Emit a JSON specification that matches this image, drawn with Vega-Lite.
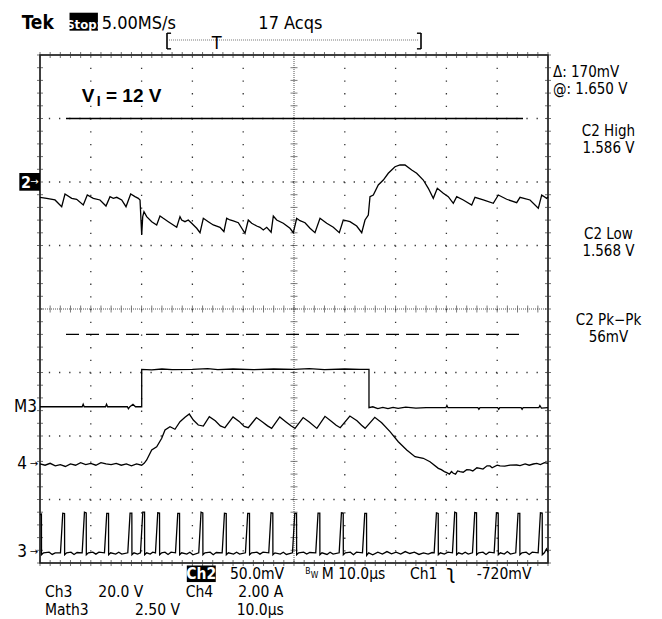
{
"$schema":"https://vega.github.io/schema/vega-lite/v6.json",
"width":508,"height":508,
"autosize":{"type":"none"},
"padding":{"left":40,"top":55,"right":114,"bottom":56},
"background":"white",
"config":{"view":{"stroke":"black","strokeWidth":1.5},"axis":{"disable":true}},
"datasets":{
"hg":[{"v":-3},{"v":-2},{"v":-1},{"v":1},{"v":2},{"v":3}],
"vg":[{"t":10},{"t":20},{"t":30},{"t":40},{"t":60},{"t":70},{"t":80},{"t":90}],
"ht":[{"t":0},{"t":2},{"t":4},{"t":6},{"t":8},{"t":10},{"t":12},{"t":14},{"t":16},{"t":18},{"t":20},{"t":22},{"t":24},{"t":26},{"t":28},{"t":30},{"t":32},{"t":34},{"t":36},{"t":38},{"t":40},{"t":42},{"t":44},{"t":46},{"t":48},{"t":50},{"t":52},{"t":54},{"t":56},{"t":58},{"t":60},{"t":62},{"t":64},{"t":66},{"t":68},{"t":70},{"t":72},{"t":74},{"t":76},{"t":78},{"t":80},{"t":82},{"t":84},{"t":86},{"t":88},{"t":90},{"t":92},{"t":94},{"t":96},{"t":98},{"t":100}],
"vt":[{"v":-4},{"v":-3.8},{"v":-3.6},{"v":-3.4},{"v":-3.2},{"v":-3},{"v":-2.8},{"v":-2.6},{"v":-2.4},{"v":-2.2},{"v":-2},{"v":-1.8},{"v":-1.6},{"v":-1.4},{"v":-1.2},{"v":-1},{"v":-0.8},{"v":-0.6},{"v":-0.4},{"v":-0.2},{"v":0},{"v":0.2},{"v":0.4},{"v":0.6},{"v":0.8},{"v":1},{"v":1.2},{"v":1.4},{"v":1.6},{"v":1.8},{"v":2},{"v":2.2},{"v":2.4},{"v":2.6},{"v":2.8},{"v":3},{"v":3.2},{"v":3.4},{"v":3.6},{"v":3.8},{"v":4}],
"ch2":[{"t":0,"v":1.759},{"t":1.32,"v":1.743},{"t":2.95,"v":1.717},{"t":4.27,"v":1.611},{"t":4.92,"v":1.811},{"t":6.24,"v":1.743},{"t":7.22,"v":1.728},{"t":8.52,"v":1.638},{"t":9.31,"v":1.795},{"t":10.49,"v":1.743},{"t":11.81,"v":1.717},{"t":12.99,"v":1.622},{"t":13.78,"v":1.769},{"t":14.43,"v":1.743},{"t":15.1,"v":1.759},{"t":16.08,"v":1.717},{"t":16.93,"v":1.611},{"t":17.85,"v":1.811},{"t":18.7,"v":1.769},{"t":19.35,"v":1.743},{"t":19.69,"v":1.717},{"t":20.02,"v":1.165},{"t":20.22,"v":1.454},{"t":20.47,"v":1.532},{"t":21.0,"v":1.454},{"t":21.99,"v":1.375},{"t":22.97,"v":1.323},{"t":23.62,"v":1.465},{"t":24.27,"v":1.428},{"t":25.26,"v":1.375},{"t":26.24,"v":1.323},{"t":26.91,"v":1.287},{"t":27.56,"v":1.454},{"t":27.89,"v":1.402},{"t":28.54,"v":1.375},{"t":29.19,"v":1.402},{"t":29.86,"v":1.35},{"t":30.85,"v":1.271},{"t":31.5,"v":1.202},{"t":32.15,"v":1.428},{"t":33.13,"v":1.375},{"t":34.11,"v":1.323},{"t":35.43,"v":1.287},{"t":36.2,"v":1.22},{"t":36.75,"v":1.428},{"t":37.4,"v":1.402},{"t":38.05,"v":1.386},{"t":39.04,"v":1.359},{"t":40.35,"v":1.192},{"t":41.0,"v":1.402},{"t":41.67,"v":1.35},{"t":42.66,"v":1.307},{"t":43.31,"v":1.287},{"t":43.96,"v":1.244},{"t":44.63,"v":1.287},{"t":45.5,"v":1.21},{"t":45.93,"v":1.465},{"t":46.59,"v":1.402},{"t":47.89,"v":1.35},{"t":49.21,"v":1.271},{"t":49.86,"v":1.202},{"t":50.53,"v":1.428},{"t":51.18,"v":1.391},{"t":52.17,"v":1.359},{"t":53.15,"v":1.271},{"t":54.13,"v":1.202},{"t":55.12,"v":1.428},{"t":56.44,"v":1.35},{"t":57.74,"v":1.287},{"t":58.92,"v":1.202},{"t":59.7,"v":1.402},{"t":61.02,"v":1.375},{"t":62.34,"v":1.307},{"t":63.33,"v":1.202},{"t":63.98,"v":1.402},{"t":64.63,"v":1.48},{"t":64.96,"v":1.769},{"t":65.61,"v":1.795},{"t":66.59,"v":1.953},{"t":67.58,"v":2.031},{"t":68.56,"v":2.137},{"t":69.88,"v":2.241},{"t":70.87,"v":2.268},{"t":71.85,"v":2.268},{"t":73.17,"v":2.189},{"t":74.15,"v":2.137},{"t":75.45,"v":2.031},{"t":76.44,"v":1.901},{"t":77.42,"v":1.743},{"t":78.21,"v":1.901},{"t":79.39,"v":1.822},{"t":80.37,"v":1.769},{"t":81.36,"v":1.665},{"t":82.03,"v":1.769},{"t":83.33,"v":1.717},{"t":84.98,"v":1.638},{"t":85.63,"v":1.759},{"t":87.26,"v":1.717},{"t":89.23,"v":1.665},{"t":90.22,"v":1.795},{"t":91.87,"v":1.728},{"t":93.84,"v":1.674},{"t":94.49,"v":1.759},{"t":96.46,"v":1.717},{"t":98.09,"v":1.586},{"t":98.76,"v":1.795},{"t":99.74,"v":1.743},{"t":100,"v":1.764}],
"m3":[{"t":0,"v":-1.539},{"t":8.3,"v":-1.539},{"t":8.5,"v":-1.5},{"t":8.7,"v":-1.539},{"t":12.9,"v":-1.539},{"t":13.1,"v":-1.5},{"t":13.3,"v":-1.539},{"t":17.2,"v":-1.539},{"t":17.4,"v":-1.57},{"t":17.7,"v":-1.539},{"t":18.3,"v":-1.5},{"t":18.8,"v":-1.539},{"t":20.02,"v":-1.539},{"t":20.02,"v":-0.95},{"t":22,"v":-0.96},{"t":24,"v":-0.945},{"t":26,"v":-0.955},{"t":30,"v":-0.95},{"t":33,"v":-0.94},{"t":35,"v":-0.955},{"t":38,"v":-0.945},{"t":42,"v":-0.955},{"t":46,"v":-0.945},{"t":50,"v":-0.95},{"t":53,"v":-0.94},{"t":56,"v":-0.955},{"t":60,"v":-0.945},{"t":63,"v":-0.95},{"t":64.76,"v":-0.95},{"t":64.76,"v":-1.554},{"t":65.5,"v":-1.54},{"t":66.5,"v":-1.57},{"t":67.5,"v":-1.55},{"t":68.5,"v":-1.57},{"t":69.5,"v":-1.55},{"t":70.5,"v":-1.565},{"t":72,"v":-1.545},{"t":74,"v":-1.56},{"t":76,"v":-1.554},{"t":79.9,"v":-1.554},{"t":80.1,"v":-1.52},{"t":80.3,"v":-1.554},{"t":86.2,"v":-1.554},{"t":86.4,"v":-1.58},{"t":86.6,"v":-1.554},{"t":90.1,"v":-1.554},{"t":90.3,"v":-1.58},{"t":90.5,"v":-1.554},{"t":94.7,"v":-1.554},{"t":94.9,"v":-1.58},{"t":95.1,"v":-1.554},{"t":98.2,"v":-1.554},{"t":98.4,"v":-1.52},{"t":98.7,"v":-1.56},{"t":100,"v":-1.554}],
"ch4":[{"t":0,"v":-2.44},{"t":1,"v":-2.46},{"t":2,"v":-2.43},{"t":3,"v":-2.47},{"t":4,"v":-2.45},{"t":5,"v":-2.48},{"t":6,"v":-2.44},{"t":7,"v":-2.46},{"t":8,"v":-2.42},{"t":9,"v":-2.45},{"t":10,"v":-2.43},{"t":11,"v":-2.46},{"t":12,"v":-2.42},{"t":13,"v":-2.44},{"t":14,"v":-2.45},{"t":15,"v":-2.43},{"t":16,"v":-2.46},{"t":17,"v":-2.44},{"t":18,"v":-2.47},{"t":19,"v":-2.44},{"t":20,"v":-2.46},{"t":20.5,"v":-2.43},{"t":21.0,"v":-2.378},{"t":21.99,"v":-2.22},{"t":22.97,"v":-2.169},{"t":23.96,"v":-2.036},{"t":24.61,"v":-1.906},{"t":25.59,"v":-1.854},{"t":26.57,"v":-1.894},{"t":27.56,"v":-1.775},{"t":28.54,"v":-1.706},{"t":29.39,"v":-1.654},{"t":30.18,"v":-1.748},{"t":31.16,"v":-1.827},{"t":32.15,"v":-1.843},{"t":33.33,"v":-1.696},{"t":34.5,"v":-1.76},{"t":35.5,"v":-1.84},{"t":36.4,"v":-1.87},{"t":38.0,"v":-1.7},{"t":39.2,"v":-1.77},{"t":40.2,"v":-1.85},{"t":41.0,"v":-1.87},{"t":42.6,"v":-1.71},{"t":43.8,"v":-1.78},{"t":44.8,"v":-1.84},{"t":45.6,"v":-1.88},{"t":47.2,"v":-1.7},{"t":48.3,"v":-1.77},{"t":49.4,"v":-1.84},{"t":50.2,"v":-1.88},{"t":51.8,"v":-1.71},{"t":53.0,"v":-1.78},{"t":54.5,"v":-1.88},{"t":56.1,"v":-1.69},{"t":57.4,"v":-1.77},{"t":58.3,"v":-1.83},{"t":59.1,"v":-1.87},{"t":61.0,"v":-1.685},{"t":62.4,"v":-1.76},{"t":63.3,"v":-1.83},{"t":64.0,"v":-1.879},{"t":65.9,"v":-1.706},{"t":67.26,"v":-1.791},{"t":68.9,"v":-1.932},{"t":70.53,"v":-2.09},{"t":72.19,"v":-2.22},{"t":73.82,"v":-2.326},{"t":75.45,"v":-2.351},{"t":76.77,"v":-2.405},{"t":78.41,"v":-2.509},{"t":79.0,"v":-2.53},{"t":79.6,"v":-2.56},{"t":80.06,"v":-2.578},{"t":80.6,"v":-2.6},{"t":81.0,"v":-2.56},{"t":81.36,"v":-2.587},{"t":81.8,"v":-2.6},{"t":82.2,"v":-2.55},{"t":82.68,"v":-2.562},{"t":83.3,"v":-2.57},{"t":84.0,"v":-2.53},{"t":84.65,"v":-2.535},{"t":85.2,"v":-2.55},{"t":86.0,"v":-2.5},{"t":86.61,"v":-2.509},{"t":87.2,"v":-2.52},{"t":88.0,"v":-2.47},{"t":88.58,"v":-2.472},{"t":89.0,"v":-2.5},{"t":90.0,"v":-2.46},{"t":90.55,"v":-2.472},{"t":91.5,"v":-2.475},{"t":92.5,"v":-2.46},{"t":93.84,"v":-2.457},{"t":94.5,"v":-2.465},{"t":95.5,"v":-2.44},{"t":96.3,"v":-2.46},{"t":97.11,"v":-2.441},{"t":97.8,"v":-2.43},{"t":98.5,"v":-2.45},{"t":99.3,"v":-2.42},{"t":100,"v":-2.43}],
"ch3":[{"t":0,"v":-3.24},{"t":0.28,"v":-3.23},{"t":0.3,"v":-3.87},{"t":0.7,"v":-3.84},{"t":1.8,"v":-3.83},{"t":2.4,"v":-3.865},{"t":3.0,"v":-3.84},
{"t":4.03,"v":-3.84},{"t":4.48,"v":-3.215},{"t":4.83,"v":-3.22},{"t":4.85,"v":-3.87},{"t":5.25,"v":-3.84},{"t":6.1,"v":-3.83},{"t":6.7,"v":-3.865},{"t":7.3,"v":-3.835},
{"t":8.3,"v":-3.84},{"t":8.75,"v":-3.2},{"t":9.1,"v":-3.21},{"t":9.12,"v":-3.87},{"t":9.52,"v":-3.84},{"t":10.4,"v":-3.83},{"t":11.0,"v":-3.86},{"t":11.6,"v":-3.83},
{"t":12.69,"v":-3.84},{"t":13.14,"v":-3.22},{"t":13.49,"v":-3.22},{"t":13.51,"v":-3.87},{"t":13.91,"v":-3.84},{"t":14.9,"v":-3.86},{"t":15.5,"v":-3.83},{"t":16.1,"v":-3.86},
{"t":17.28,"v":-3.84},{"t":17.73,"v":-3.215},{"t":18.08,"v":-3.215},{"t":18.1,"v":-3.87},{"t":18.5,"v":-3.84},{"t":19.2,"v":-3.86},
{"t":19.78,"v":-3.84},{"t":20.23,"v":-3.2},{"t":20.58,"v":-3.2},{"t":20.6,"v":-3.87},{"t":21.0,"v":-3.84},{"t":21.7,"v":-3.86},{"t":22.2,"v":-3.83},
{"t":22.73,"v":-3.84},{"t":23.18,"v":-3.21},{"t":23.53,"v":-3.215},{"t":23.55,"v":-3.87},{"t":23.95,"v":-3.84},{"t":24.6,"v":-3.83},{"t":25.2,"v":-3.865},{"t":25.8,"v":-3.83},
{"t":26.67,"v":-3.84},{"t":27.12,"v":-3.22},{"t":27.47,"v":-3.22},{"t":27.49,"v":-3.87},{"t":27.89,"v":-3.84},{"t":28.9,"v":-3.86},{"t":29.5,"v":-3.83},{"t":30.1,"v":-3.87},
{"t":31.25,"v":-3.84},{"t":31.7,"v":-3.2},{"t":32.05,"v":-3.21},{"t":32.07,"v":-3.87},{"t":32.47,"v":-3.84},{"t":33.5,"v":-3.83},{"t":34.1,"v":-3.87},{"t":34.7,"v":-3.835},
{"t":35.86,"v":-3.84},{"t":36.31,"v":-3.215},{"t":36.66,"v":-3.22},{"t":36.68,"v":-3.87},{"t":37.08,"v":-3.84},{"t":38.1,"v":-3.86},{"t":38.7,"v":-3.83},{"t":39.3,"v":-3.86},
{"t":40.44,"v":-3.84},{"t":40.89,"v":-3.22},{"t":41.24,"v":-3.22},{"t":41.26,"v":-3.87},{"t":41.66,"v":-3.84},{"t":42.7,"v":-3.83},{"t":43.3,"v":-3.86},{"t":43.9,"v":-3.83},
{"t":45.03,"v":-3.84},{"t":45.48,"v":-3.21},{"t":45.83,"v":-3.215},{"t":45.85,"v":-3.87},{"t":46.25,"v":-3.84},{"t":47.3,"v":-3.86},{"t":47.9,"v":-3.83},{"t":48.5,"v":-3.865},
{"t":49.7,"v":-3.84},{"t":50.15,"v":-3.22},{"t":50.5,"v":-3.22},{"t":50.52,"v":-3.87},{"t":50.92,"v":-3.84},{"t":51.9,"v":-3.83},{"t":52.5,"v":-3.86},{"t":53.1,"v":-3.835},
{"t":54.28,"v":-3.84},{"t":54.73,"v":-3.215},{"t":55.08,"v":-3.215},{"t":55.1,"v":-3.87},{"t":55.5,"v":-3.84},{"t":56.5,"v":-3.865},{"t":57.1,"v":-3.83},{"t":57.7,"v":-3.86},
{"t":58.89,"v":-3.84},{"t":59.34,"v":-3.21},{"t":59.69,"v":-3.215},{"t":59.71,"v":-3.87},{"t":60.11,"v":-3.84},{"t":61.1,"v":-3.83},{"t":61.7,"v":-3.87},{"t":62.3,"v":-3.83},
{"t":63.48,"v":-3.84},{"t":63.93,"v":-3.22},{"t":64.28,"v":-3.22},{"t":64.3,"v":-3.88},{"t":64.7,"v":-3.84},
{"t":65.5,"v":-3.87},{"t":66.5,"v":-3.83},{"t":67.4,"v":-3.86},{"t":68.3,"v":-3.82},{"t":69.2,"v":-3.855},{"t":70.1,"v":-3.83},{"t":71.0,"v":-3.86},{"t":71.9,"v":-3.82},{"t":72.8,"v":-3.85},{"t":73.7,"v":-3.83},{"t":74.6,"v":-3.865},{"t":75.5,"v":-3.84},{"t":76.4,"v":-3.86},{"t":77.2,"v":-3.835},
{"t":77.59,"v":-3.84},{"t":78.04,"v":-3.21},{"t":78.39,"v":-3.22},{"t":78.41,"v":-3.87},{"t":78.81,"v":-3.84},{"t":79.6,"v":-3.86},{"t":80.3,"v":-3.83},
{"t":81.19,"v":-3.84},{"t":81.64,"v":-3.2},{"t":81.99,"v":-3.21},{"t":82.01,"v":-3.87},{"t":82.41,"v":-3.84},{"t":83.1,"v":-3.86},{"t":83.7,"v":-3.83},{"t":84.3,"v":-3.86},
{"t":85.13,"v":-3.84},{"t":85.58,"v":-3.205},{"t":85.93,"v":-3.21},{"t":85.95,"v":-3.87},{"t":86.35,"v":-3.84},{"t":87.2,"v":-3.83},{"t":87.8,"v":-3.865},{"t":88.4,"v":-3.83},
{"t":89.4,"v":-3.84},{"t":89.85,"v":-3.21},{"t":90.2,"v":-3.215},{"t":90.22,"v":-3.87},{"t":90.62,"v":-3.84},{"t":91.4,"v":-3.86},{"t":92.0,"v":-3.82},{"t":92.6,"v":-3.86},
{"t":93.65,"v":-3.84},{"t":94.1,"v":-3.22},{"t":94.45,"v":-3.22},{"t":94.47,"v":-3.87},{"t":94.87,"v":-3.84},{"t":95.7,"v":-3.83},{"t":96.3,"v":-3.865},{"t":96.9,"v":-3.83},
{"t":98.06,"v":-3.84},{"t":98.51,"v":-3.21},{"t":98.86,"v":-3.215},{"t":98.88,"v":-3.87},{"t":99.28,"v":-3.84},{"t":99.7,"v":-3.78},{"t":100,"v":-3.83}]
},
"layer":[
{"data":{"name":"hg"},"mark":{"type":"rule","color":"#333","strokeWidth":1.3,"strokeDash":[1.3,8.86]},"encoding":{"y":{"field":"v","type":"quantitative","scale":{"domain":[-4,4],"nice":false,"zero":false},"axis":null}}},
{"data":{"name":"vg"},"mark":{"type":"rule","color":"#333","strokeWidth":1.3,"strokeDash":[1.3,11.4]},"encoding":{"x":{"field":"t","type":"quantitative","scale":{"domain":[0,100],"nice":false,"zero":false},"axis":null}}},
{"data":{"values":[{"v":0}]},"mark":{"type":"rule","color":"#555","strokeWidth":1,"strokeDash":[1,1]},"encoding":{"y":{"field":"v","type":"quantitative","scale":{"domain":[-4,4],"nice":false,"zero":false},"axis":null}}},
{"data":{"values":[{"t":50}]},"mark":{"type":"rule","color":"#555","strokeWidth":1,"strokeDash":[1,1]},"encoding":{"x":{"field":"t","type":"quantitative","scale":{"domain":[0,100],"nice":false,"zero":false},"axis":null}}},
{"data":{"name":"ht"},"mark":{"type":"tick","orient":"vertical","color":"#444","size":7,"thickness":1},"encoding":{"x":{"field":"t","type":"quantitative","scale":{"domain":[0,100],"nice":false,"zero":false},"axis":null},"y":{"datum":0,"type":"quantitative","scale":{"domain":[-4,4],"nice":false,"zero":false},"axis":null}}},
{"data":{"name":"vt"},"mark":{"type":"tick","orient":"horizontal","color":"#444","size":7,"thickness":1},"encoding":{"y":{"field":"v","type":"quantitative","scale":{"domain":[-4,4],"nice":false,"zero":false},"axis":null},"x":{"datum":50,"type":"quantitative","scale":{"domain":[0,100],"nice":false,"zero":false},"axis":null}}},
{"data":{"name":"ht"},"mark":{"type":"tick","orient":"vertical","color":"#333","size":6,"thickness":1},"encoding":{"x":{"field":"t","type":"quantitative","scale":{"domain":[0,100],"nice":false,"zero":false},"axis":null},"y":{"datum":4,"type":"quantitative","scale":{"domain":[-4,4],"nice":false,"zero":false},"axis":null}}},
{"data":{"name":"ht"},"mark":{"type":"tick","orient":"vertical","color":"#333","size":6,"thickness":1},"encoding":{"x":{"field":"t","type":"quantitative","scale":{"domain":[0,100],"nice":false,"zero":false},"axis":null},"y":{"datum":-4,"type":"quantitative","scale":{"domain":[-4,4],"nice":false,"zero":false},"axis":null}}},
{"data":{"name":"vt"},"mark":{"type":"tick","orient":"horizontal","color":"#333","size":6,"thickness":1},"encoding":{"y":{"field":"v","type":"quantitative","scale":{"domain":[-4,4],"nice":false,"zero":false},"axis":null},"x":{"datum":0,"type":"quantitative","scale":{"domain":[0,100],"nice":false,"zero":false},"axis":null}}},
{"data":{"name":"vt"},"mark":{"type":"tick","orient":"horizontal","color":"#333","size":6,"thickness":1},"encoding":{"y":{"field":"v","type":"quantitative","scale":{"domain":[-4,4],"nice":false,"zero":false},"axis":null},"x":{"datum":100,"type":"quantitative","scale":{"domain":[0,100],"nice":false,"zero":false},"axis":null}}},
{"data":{"values":[{}]},"mark":{"type":"rule","color":"black","strokeWidth":1.5},"encoding":{"x":{"datum":5.12,"type":"quantitative","scale":{"domain":[0,100],"nice":false,"zero":false},"axis":null},"x2":{"datum":95.08},"y":{"datum":3.0,"type":"quantitative","scale":{"domain":[-4,4],"nice":false,"zero":false},"axis":null}}},
{"data":{"values":[{}]},"mark":{"type":"rule","color":"black","strokeWidth":1.3,"strokeDash":[13,7]},"encoding":{"x":{"datum":5.12,"type":"quantitative","scale":{"domain":[0,100],"nice":false,"zero":false},"axis":null},"x2":{"datum":95.5},"y":{"datum":-0.4,"type":"quantitative","scale":{"domain":[-4,4],"nice":false,"zero":false},"axis":null}}},
{"data":{"name":"ch2"},"mark":{"type":"line","color":"black","strokeWidth":1.3},"encoding":{"x":{"field":"t","type":"quantitative","scale":{"domain":[0,100],"nice":false,"zero":false},"axis":null},"y":{"field":"v","type":"quantitative","scale":{"domain":[-4,4],"nice":false,"zero":false},"axis":null},"order":{"value":null}}},
{"data":{"name":"m3"},"mark":{"type":"line","color":"black","strokeWidth":1.3},"encoding":{"x":{"field":"t","type":"quantitative","scale":{"domain":[0,100],"nice":false,"zero":false},"axis":null},"y":{"field":"v","type":"quantitative","scale":{"domain":[-4,4],"nice":false,"zero":false},"axis":null},"order":{"value":null}}},
{"data":{"name":"ch4"},"mark":{"type":"line","color":"black","strokeWidth":1.3},"encoding":{"x":{"field":"t","type":"quantitative","scale":{"domain":[0,100],"nice":false,"zero":false},"axis":null},"y":{"field":"v","type":"quantitative","scale":{"domain":[-4,4],"nice":false,"zero":false},"axis":null},"order":{"value":null}}},
{"data":{"name":"ch3"},"mark":{"type":"line","color":"black","strokeWidth":1.3},"encoding":{"x":{"field":"t","type":"quantitative","scale":{"domain":[0,100],"nice":false,"zero":false},"axis":null},"y":{"field":"v","type":"quantitative","scale":{"domain":[-4,4],"nice":false,"zero":false},"axis":null},"order":{"value":null}}},
{"data":{"values":[{}]},"mark":{"type":"rect","color":"black"},"encoding":{"x":{"datum":5.81,"type":"quantitative","scale":{"domain":[0,100],"nice":false,"zero":false},"axis":null},"x2":{"datum":11.4},"y":{"datum":4.666,"type":"quantitative","scale":{"domain":[-4,4],"nice":false,"zero":false},"axis":null},"y2":{"datum":4.383}}},
{"data":{"values":[{}]},"mark":{"type":"rect","color":"black"},"encoding":{"x":{"datum":28.9,"type":"quantitative","scale":{"domain":[0,100],"nice":false,"zero":false},"axis":null},"x2":{"datum":34.6},"y":{"datum":-4.039,"type":"quantitative","scale":{"domain":[-4,4],"nice":false,"zero":false},"axis":null},"y2":{"datum":-4.3}}},
{"data":{"values":[{}]},"mark":{"type":"rect","color":"black"},"encoding":{"x":{"datum":-4.07,"type":"quantitative","scale":{"domain":[0,100],"nice":false,"zero":false},"axis":null},"x2":{"datum":0},"y":{"datum":2.142,"type":"quantitative","scale":{"domain":[-4,4],"nice":false,"zero":false},"axis":null},"y2":{"datum":1.863}}},
{"data":{"values":[{}]},"mark":{"type":"rule","color":"#777","strokeWidth":1,"strokeDash":[1,1]},"encoding":{"x":{"datum":25.4,"type":"quantitative","scale":{"domain":[0,100],"nice":false,"zero":false},"axis":null},"x2":{"datum":74.6},"y":{"datum":4.236,"type":"quantitative","scale":{"domain":[-4,4],"nice":false,"zero":false},"axis":null}}},
{"data":{"values":[{"t":25.0},{"t":75.0}]},"mark":{"type":"rule","color":"black","strokeWidth":1.6},"encoding":{"x":{"field":"t","type":"quantitative","scale":{"domain":[0,100],"nice":false,"zero":false},"axis":null},"y":{"datum":4.346,"type":"quantitative","scale":{"domain":[-4,4],"nice":false,"zero":false},"axis":null},"y2":{"datum":4.094}}},
{"data":{"values":[{"a":25.0,"b":25.8},{"a":74.2,"b":75.0}]},"mark":{"type":"rule","color":"black","strokeWidth":1.4},"encoding":{"x":{"field":"a","type":"quantitative","scale":{"domain":[0,100],"nice":false,"zero":false},"axis":null},"x2":{"field":"b"},"y":{"datum":4.343,"type":"quantitative","scale":{"domain":[-4,4],"nice":false,"zero":false},"axis":null}}},
{"data":{"values":[{"a":25.0,"b":25.8},{"a":74.2,"b":75.0}]},"mark":{"type":"rule","color":"black","strokeWidth":1.4},"encoding":{"x":{"field":"a","type":"quantitative","scale":{"domain":[0,100],"nice":false,"zero":false},"axis":null},"x2":{"field":"b"},"y":{"datum":4.097,"type":"quantitative","scale":{"domain":[-4,4],"nice":false,"zero":false},"axis":null}}},
{"data":{"values":[{"t":-3.6,"v":4.405,"s":"Tek"}]},"mark":{"type":"text","align":"left","baseline":"alphabetic","font":"DejaVu Sans Condensed, Liberation Sans Narrow, DejaVu Sans, sans-serif","fontSize":19,"fontWeight":"bold","color":"black"},"encoding":{"x":{"field":"t","type":"quantitative","scale":{"domain":[0,100],"nice":false,"zero":false},"axis":null},"y":{"field":"v","type":"quantitative","scale":{"domain":[-4,4],"nice":false,"zero":false},"axis":null},"text":{"field":"s"}}},
{"data":{"values":[{"t":8.6,"v":4.415,"s":"Stop:"}]},"mark":{"type":"text","align":"center","baseline":"alphabetic","font":"DejaVu Sans Condensed, Liberation Sans Narrow, DejaVu Sans, sans-serif","fontSize":13,"fontWeight":"bold","color":"white"},"encoding":{"x":{"field":"t","type":"quantitative","scale":{"domain":[0,100],"nice":false,"zero":false},"axis":null},"y":{"field":"v","type":"quantitative","scale":{"domain":[-4,4],"nice":false,"zero":false},"axis":null},"text":{"field":"s"}}},
{"data":{"values":[{"t":12.15,"v":4.405,"s":"5.00MS/s"},{"t":42.98,"v":4.405,"s":"17 Acqs"}]},"mark":{"type":"text","align":"left","baseline":"alphabetic","font":"DejaVu Sans Condensed, Liberation Sans Narrow, DejaVu Sans, sans-serif","fontSize":18,"color":"black"},"encoding":{"x":{"field":"t","type":"quantitative","scale":{"domain":[0,100],"nice":false,"zero":false},"axis":null},"y":{"field":"v","type":"quantitative","scale":{"domain":[-4,4],"nice":false,"zero":false},"axis":null},"text":{"field":"s"}}},
{"data":{"values":[{"t":37.4,"v":-4.252,"s":"50.0mV"},{"t":55.45,"v":-4.252,"s":"M 10.0µs"},{"t":72.83,"v":-4.252,"s":"Ch1"},{"t":85.96,"v":-4.252,"s":"-720mV"},{"t":0.98,"v":-4.535,"s":"Ch3"},{"t":11.48,"v":-4.535,"s":"20.0 V"},{"t":28.68,"v":-4.535,"s":"Ch4"},{"t":39.04,"v":-4.535,"s":"2.00 A"},{"t":0.98,"v":-4.819,"s":"Math3"},{"t":18.7,"v":-4.819,"s":"2.50 V"},{"t":38.72,"v":-4.819,"s":"10.0µs"}]},"mark":{"type":"text","align":"left","baseline":"alphabetic","font":"DejaVu Sans Condensed, Liberation Sans Narrow, DejaVu Sans, sans-serif","fontSize":15.5,"color":"black"},"encoding":{"x":{"field":"t","type":"quantitative","scale":{"domain":[0,100],"nice":false,"zero":false},"axis":null},"y":{"field":"v","type":"quantitative","scale":{"domain":[-4,4],"nice":false,"zero":false},"axis":null},"text":{"field":"s"}}},
{"data":{"values":[{"t":34.78,"v":4.09,"s":"T"}]},"mark":{"type":"text","align":"center","baseline":"alphabetic","font":"DejaVu Sans Condensed, Liberation Sans Narrow, DejaVu Sans, sans-serif","fontSize":18,"color":"black"},"encoding":{"x":{"field":"t","type":"quantitative","scale":{"domain":[0,100],"nice":false,"zero":false},"axis":null},"y":{"field":"v","type":"quantitative","scale":{"domain":[-4,4],"nice":false,"zero":false},"axis":null},"text":{"field":"s"}}},
{"data":{"values":[{"t":100.98,"v":3.657}]},"mark":{"type":"text","text":["Δ: 170mV","@: 1.650 V"],"lineHeight":17.5,"align":"left","baseline":"alphabetic","font":"DejaVu Sans Condensed, Liberation Sans Narrow, DejaVu Sans, sans-serif","fontSize":15,"color":"black"},"encoding":{"x":{"field":"t","type":"quantitative","scale":{"domain":[0,100],"nice":false,"zero":false},"axis":null},"y":{"field":"v","type":"quantitative","scale":{"domain":[-4,4],"nice":false,"zero":false},"axis":null}}},
{"data":{"values":[{"t":111.9,"v":2.728}]},"mark":{"type":"text","text":["C2 High","1.586 V"],"lineHeight":17.5,"align":"center","baseline":"alphabetic","font":"DejaVu Sans Condensed, Liberation Sans Narrow, DejaVu Sans, sans-serif","fontSize":15,"color":"black"},"encoding":{"x":{"field":"t","type":"quantitative","scale":{"domain":[0,100],"nice":false,"zero":false},"axis":null},"y":{"field":"v","type":"quantitative","scale":{"domain":[-4,4],"nice":false,"zero":false},"axis":null}}},
{"data":{"values":[{"t":111.9,"v":1.109}]},"mark":{"type":"text","text":["C2 Low","1.568 V"],"lineHeight":17.5,"align":"center","baseline":"alphabetic","font":"DejaVu Sans Condensed, Liberation Sans Narrow, DejaVu Sans, sans-serif","fontSize":15,"color":"black"},"encoding":{"x":{"field":"t","type":"quantitative","scale":{"domain":[0,100],"nice":false,"zero":false},"axis":null},"y":{"field":"v","type":"quantitative","scale":{"domain":[-4,4],"nice":false,"zero":false},"axis":null}}},
{"data":{"values":[{"t":111.9,"v":-0.246}]},"mark":{"type":"text","text":["C2 Pk−Pk","56mV"],"lineHeight":17.5,"align":"center","baseline":"alphabetic","font":"DejaVu Sans Condensed, Liberation Sans Narrow, DejaVu Sans, sans-serif","fontSize":15,"color":"black"},"encoding":{"x":{"field":"t","type":"quantitative","scale":{"domain":[0,100],"nice":false,"zero":false},"axis":null},"y":{"field":"v","type":"quantitative","scale":{"domain":[-4,4],"nice":false,"zero":false},"axis":null}}},
{"data":{"values":[{"t":31.75,"v":-4.252,"s":"Ch2"}]},"mark":{"type":"text","align":"center","baseline":"alphabetic","font":"DejaVu Sans Condensed, Liberation Sans Narrow, DejaVu Sans, sans-serif","fontSize":15.5,"fontWeight":"bold","color":"white"},"encoding":{"x":{"field":"t","type":"quantitative","scale":{"domain":[0,100],"nice":false,"zero":false},"axis":null},"y":{"field":"v","type":"quantitative","scale":{"domain":[-4,4],"nice":false,"zero":false},"axis":null},"text":{"field":"s"}}},
{"data":{"values":[{"t":-3.74,"v":1.898,"s":"2"}]},"mark":{"type":"text","align":"left","baseline":"alphabetic","font":"DejaVu Sans Condensed, Liberation Sans Narrow, DejaVu Sans, sans-serif","fontSize":16,"fontWeight":"bold","color":"white"},"encoding":{"x":{"field":"t","type":"quantitative","scale":{"domain":[0,100],"nice":false,"zero":false},"axis":null},"y":{"field":"v","type":"quantitative","scale":{"domain":[-4,4],"nice":false,"zero":false},"axis":null},"text":{"field":"s"}}},
{"data":{"values":[{"t":-1.08,"v":2.0,"s":"→"}]},"mark":{"type":"text","align":"center","baseline":"middle","font":"DejaVu Sans, sans-serif","fontSize":10,"color":"white"},"encoding":{"x":{"field":"t","type":"quantitative","scale":{"domain":[0,100],"nice":false,"zero":false},"axis":null},"y":{"field":"v","type":"quantitative","scale":{"domain":[-4,4],"nice":false,"zero":false},"axis":null},"text":{"field":"s"}}},
{"data":{"values":[{"t":-2.56,"v":-2.441,"s":"4"},{"t":-2.56,"v":-3.827,"s":"3"},{"t":-0.6,"v":-1.543,"s":"M3"}]},"mark":{"type":"text","align":"right","baseline":"middle","font":"DejaVu Sans Condensed, Liberation Sans Narrow, DejaVu Sans, sans-serif","fontSize":17,"color":"black"},"encoding":{"x":{"field":"t","type":"quantitative","scale":{"domain":[0,100],"nice":false,"zero":false},"axis":null},"y":{"field":"v","type":"quantitative","scale":{"domain":[-4,4],"nice":false,"zero":false},"axis":null},"text":{"field":"s"}}},
{"data":{"values":[{"t":-1.18,"v":-2.441,"s":"→"},{"t":-1.18,"v":-3.827,"s":"→"}]},"mark":{"type":"text","align":"center","baseline":"middle","font":"DejaVu Sans, sans-serif","fontSize":10,"color":"black"},"encoding":{"x":{"field":"t","type":"quantitative","scale":{"domain":[0,100],"nice":false,"zero":false},"axis":null},"y":{"field":"v","type":"quantitative","scale":{"domain":[-4,4],"nice":false,"zero":false},"axis":null},"text":{"field":"s"}}},
{"data":{"values":[{"t":52.2,"v":-4.17,"s":"B"},{"t":53.3,"v":-4.23,"s":"W"}]},"mark":{"type":"text","align":"left","baseline":"alphabetic","font":"DejaVu Sans Condensed, DejaVu Sans, sans-serif","fontSize":8.5,"color":"black"},"encoding":{"x":{"field":"t","type":"quantitative","scale":{"domain":[0,100],"nice":false,"zero":false},"axis":null},"y":{"field":"v","type":"quantitative","scale":{"domain":[-4,4],"nice":false,"zero":false},"axis":null},"text":{"field":"s"}}},
{"data":{"values":[{"t":80.0,"v":-4.252,"s":"ʅ"}]},"mark":{"type":"text","align":"left","baseline":"alphabetic","font":"DejaVu Sans, sans-serif","fontSize":20,"color":"black"},"encoding":{"x":{"field":"t","type":"quantitative","scale":{"domain":[0,100],"nice":false,"zero":false},"axis":null},"y":{"field":"v","type":"quantitative","scale":{"domain":[-4,4],"nice":false,"zero":false},"axis":null},"text":{"field":"s"}}},
{"data":{"values":[{"t":8.21,"v":3.265,"s":"V"},{"t":12.99,"v":3.265,"s":"= 12 V"}]},"mark":{"type":"text","align":"left","baseline":"alphabetic","font":"Liberation Sans, Arial, sans-serif","fontSize":19,"fontWeight":"bold","color":"black"},"encoding":{"x":{"field":"t","type":"quantitative","scale":{"domain":[0,100],"nice":false,"zero":false},"axis":null},"y":{"field":"v","type":"quantitative","scale":{"domain":[-4,4],"nice":false,"zero":false},"axis":null},"text":{"field":"s"}}},
{"data":{"values":[{"t":11.16,"v":3.197,"s":"I"}]},"mark":{"type":"text","align":"left","baseline":"alphabetic","font":"Liberation Sans, Arial, sans-serif","fontSize":14,"fontWeight":"bold","color":"black"},"encoding":{"x":{"field":"t","type":"quantitative","scale":{"domain":[0,100],"nice":false,"zero":false},"axis":null},"y":{"field":"v","type":"quantitative","scale":{"domain":[-4,4],"nice":false,"zero":false},"axis":null},"text":{"field":"s"}}}
]
}
